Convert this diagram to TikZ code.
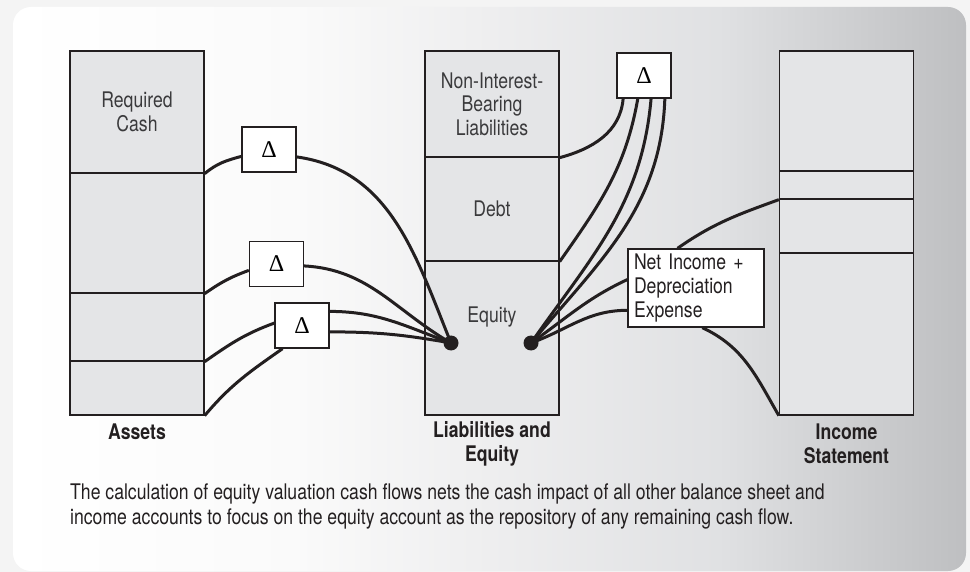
\documentclass[tikz,border=0pt]{standalone}
\usepackage{fontspec}
\setmainfont{TeX Gyre Heros}[FakeStretch=0.82]
\newfontfamily\deltafont{Liberation Serif}

\definecolor{ink}{RGB}{35,31,32}
\definecolor{boxtext}{RGB}{58,58,60}
\definecolor{boxfill}{RGB}{228,229,231}
\definecolor{outside}{RGB}{244,244,244}
\definecolor{pnlA}{RGB}{250,250,250}
\definecolor{pnlB}{RGB}{238,238,239}
\definecolor{pnlC}{RGB}{224,225,227}
\definecolor{pnlD}{RGB}{190,191,193}
\pgfdeclarehorizontalshading{panelshade}{100bp}{color(0bp)=(white); color(25bp)=(white); color(40bp)=(pnlA); color(50bp)=(pnlB); color(62bp)=(pnlC); color(75bp)=(pnlD); color(100bp)=(pnlD)}

\tikzset{
  acct/.style={draw=ink,line width=1.3pt,fill=boxfill,minimum width=134pt,inner sep=0pt,
    align=center,text=boxtext,font=\fontsize{21.5}{23.5}\selectfont},
  dbox/.style={draw=ink,line width=1.3pt,fill=white,minimum width=54pt,minimum height=45pt,
    inner sep=0pt,font=\deltafont\fontsize{24}{26}\selectfont},
  flow/.style={ink,line width=3pt},
  hub/.style={circle,fill=ink,minimum size=15pt,inner sep=0pt},
  colname/.style={align=center,text=ink,font=\bfseries\fontsize{21.5}{24}\selectfont}
}
\newcommand{\acctseg}[4]{\node[acct,minimum height=#3] (#1) at (#2) {#4}}
\newcommand{\chgbox}[2]{\node[dbox] (#1) at (#2) {Δ}}

\begin{document}
\begin{tikzpicture}[x=1pt,y=1pt]
  \useasboundingbox (0,0) rectangle (970,-572);
  \fill[outside] (0,0) rectangle (970,-572);
  \shade[shading=panelshade,rounded corners=18pt] (13,-7) rectangle (966,-571);

  \acctseg{cash}{137,-112}{122pt}{Required\\Cash};
  \acctseg{asset2}{137,-233}{120pt}{};
  \acctseg{asset3}{137,-327}{68pt}{};
  \acctseg{asset4}{137,-388}{54pt}{};

  \acctseg{nibl}{492,-104}{106pt}{Non-Interest-\\Bearing\\Liabilities};
  \acctseg{debt}{492,-209}{104pt}{Debt};
  \acctseg{equity}{492,-338}{154pt}{};
  \node[text=boxtext,font=\fontsize{21.5}{24}\selectfont] (eqtext) at (492,-317) {Equity};

  \acctseg{inc1}{846.5,-111}{120pt}{};
  \acctseg{inc2}{846.5,-185}{28pt}{};
  \acctseg{inc3}{846.5,-226}{54pt}{};
  \acctseg{inc4}{846.5,-334}{162pt}{};

  \node[colname] (assets) at (137,-432) {Assets};
  \node[colname] (liabeq) at (492,-444) {Liabilities and\\Equity};
  \node[colname] (incstmt) at (846.5,-444) {Income\\Statement};

  \chgbox{d1}{269,-149.5};
  \chgbox{d2}{276.5,-264};
  \chgbox{d3}{302,-325.5};
  \chgbox{d4}{644,-75.5};

  \node[draw=ink,line width=1.3pt,fill=white,minimum width=136pt,minimum height=78pt,
    inner sep=0pt,text width=124pt,align=left,text=ink,font=\fontsize{21.5}{24}\selectfont]
    (niexp) at (696,-288) {Net Income +\\Depreciation\\Expense};

  \node[hub] (ldot) at (451,-343) {};
  \node[hub] (rdot) at (531,-343) {};

  \draw[flow] (cash.south east) to[out=40,in=195] (d1.194);
  \draw[flow] (d1.-15) to[out=-8,in=112] (ldot.center);
  \draw[flow] (asset2.south east) to[out=35,in=200] (d2.193);
  \draw[flow] (d2.-4) to[out=-3,in=150] (ldot.center);
  \draw[flow] (asset3.south east) to[out=35,in=200] (d3.175);
  \draw[flow] (d3.27) to[out=0,in=160] (ldot.center);
  \draw[flow] (d3.-13) to[out=0,in=170] (ldot.center);
  \draw[flow] (asset4.south east) to[out=50,in=215] (d3.230);

  \draw[flow] (nibl.south east) to[out=15,in=-95] (d4.228);
  \draw[flow] (debt.south east) to[out=55,in=-100] (d4.255);
  \draw[flow] (rdot.center) to[out=55,in=-95] (d4.287);
  \draw[flow] (rdot.center) to[out=50,in=-92] (d4.312);
  \draw[flow] (rdot.center) to[out=35,in=205] (niexp.173);
  \draw[flow] (rdot.center) to[out=20,in=180] (niexp.198);
  \draw[flow] (niexp.115) to[out=35,in=200] (inc2.south west);
  \draw[flow] (niexp.279) to[out=-25,in=120] (inc4.south west);

  \node[anchor=north west,align=left,inner sep=0pt,text=ink,font=\fontsize{21.5}{25}\selectfont]
    (caption) at (70,-484) {The calculation of equity valuation cash flows nets the cash impact of all other balance sheet and\\
    income accounts to focus on the equity account as the repository of any remaining cash flow.};
\end{tikzpicture}
\end{document}
